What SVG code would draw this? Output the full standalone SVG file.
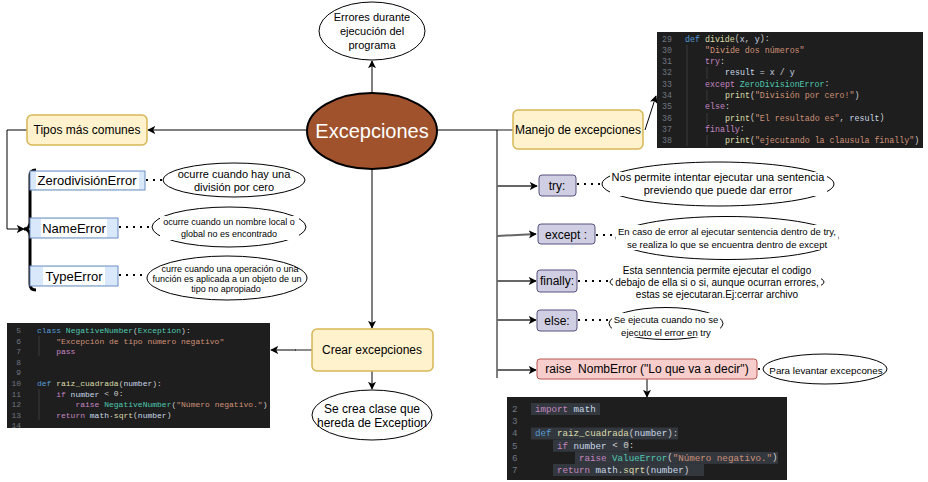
<svg xmlns="http://www.w3.org/2000/svg" width="928" height="482" viewBox="0 0 928 482">
<style>
.t{font-family:"Liberation Sans",Arial,sans-serif;fill:#000;text-anchor:middle;dominant-baseline:central}
.y{fill:#fff2cc;stroke:#d6b656;stroke-width:1.5}
.b{fill:#dae8fc;stroke:#6c8ebf;stroke-width:1}
.p{fill:#d0cee2;stroke:#56517e;stroke-width:1}
.r{fill:#f8cecc;stroke:#b85450;stroke-width:1}
.el{fill:#fff;stroke:#000;stroke-width:1}
.bg{fill:#fff}
.ln{stroke:#000;stroke-width:1;fill:none}
.gr{stroke:#666;stroke-width:2;fill:none}
.dot{stroke:#000;stroke-width:2;stroke-dasharray:2 5;fill:none}
.code{fill:#1e1e1e}
.c{font-family:"Liberation Mono","DejaVu Sans Mono",monospace;fill:#cfcfcf;dominant-baseline:central}
.n{fill:#6e7681}
.k{fill:#569cd6}
.kp{fill:#c586c0}
.s{fill:#ce9178}
.cl{fill:#4ec9b0}
.f{fill:#dcdcaa}
.v{fill:#c8d8e8}
.sel{fill:#33373e}
</style>
<defs>
<marker id="ah" viewBox="0 0 10 10" refX="9" refY="5" markerWidth="8" markerHeight="8" markerUnits="userSpaceOnUse" orient="auto">
<path d="M0,0 L10,5 L0,10 L2.5,5 z" fill="#000"/>
</marker>
<clipPath id="clipL"><rect x="7" y="323" width="263" height="105"/></clipPath>
</defs>

<!-- connectors -->
<g id="connectors">
<line class="ln" x1="372" y1="93" x2="372" y2="61" marker-end="url(#ah)"/>
<line class="ln" x1="307" y1="130" x2="148" y2="130" marker-end="url(#ah)"/>
<path class="ln" d="M27,130 H7 V229 H24" marker-end="url(#ah)"/>
<line class="ln" x1="372" y1="169" x2="372" y2="328" marker-end="url(#ah)"/>
<line class="ln" x1="437" y1="130" x2="497" y2="130"/>
<line class="gr" x1="497" y1="130" x2="513" y2="130" style="stroke-width:1.5"/>
<line class="ln" x1="497" y1="130" x2="497" y2="378"/>
<line class="gr" x1="497" y1="186" x2="537" y2="186" marker-end="url(#ah)"/>
<line class="gr" x1="497" y1="236" x2="536" y2="234" marker-end="url(#ah)"/>
<line class="gr" x1="497" y1="281" x2="536" y2="281" marker-end="url(#ah)"/>
<line class="gr" x1="497" y1="320" x2="536" y2="320" marker-end="url(#ah)"/>
<line class="gr" x1="497" y1="370" x2="536" y2="370" marker-end="url(#ah)"/>
<line class="ln" x1="645" y1="130" x2="656" y2="96" marker-end="url(#ah)"/>
<line class="gr" x1="312" y1="350" x2="295" y2="350" style="stroke-width:1.5"/>
<line class="ln" x1="296" y1="350" x2="271" y2="350" marker-end="url(#ah)"/>
<line class="ln" x1="372" y1="371" x2="372" y2="389" marker-end="url(#ah)"/>
<line class="ln" x1="647" y1="379" x2="647" y2="397" marker-end="url(#ah)"/>
<line class="dot" x1="146" y1="180" x2="163" y2="180"/>
<line class="dot" x1="119" y1="227" x2="152" y2="227"/>
<line class="dot" x1="119" y1="275" x2="147" y2="275"/>
<line class="dot" x1="577" y1="184" x2="606" y2="184"/>
<line class="dot" x1="596" y1="235" x2="616" y2="235"/>
<line class="dot" x1="578" y1="281" x2="610" y2="281"/>
<line class="dot" x1="578" y1="320" x2="609" y2="320"/>
<line class="dot" x1="758" y1="369" x2="763" y2="369"/>
</g>

<!-- central node -->
<g id="excepciones">
<ellipse cx="372" cy="131" rx="65" ry="38" fill="#a0522d" stroke="#000" stroke-width="2"/>
<text class="t" x="372" y="131" font-size="20" style="fill:#fff">Excepciones</text>
</g>

<g id="errores">
<ellipse class="el" cx="372" cy="31" rx="53" ry="29"/>
<text class="t" font-size="11"><tspan x="372" y="17">Errores durante</tspan><tspan x="372" y="31">ejecución del</tspan><tspan x="372" y="45">programa</tspan></text>
</g>

<g id="tipos">
<rect class="y" x="27" y="115" width="120" height="30" rx="5"/>
<text class="t" x="87" y="130" font-size="12">Tipos más comunes</text>
</g>

<g id="brace">
<path d="M36,170 Q30,170 30,176 V222 Q30,229 24,229 Q30,229 30,236 V284 Q30,290 36,290" fill="none" stroke="#000" stroke-width="3"/>
</g>

<g id="zerodiv">
<rect class="b" x="30" y="171" width="115" height="19"/>
<rect class="bg" x="36" y="172" width="103" height="17"/>
<text class="t" x="87" y="180.5" font-size="13">ZerodivisiónError</text>
</g>
<g id="zerodiv-desc">
<ellipse class="el" cx="234" cy="180" rx="71" ry="17"/>
<text class="t" font-size="11"><tspan x="234" y="174">ocurre cuando hay una</tspan><tspan x="234" y="187">división por cero</tspan></text>
</g>

<g id="nameerror">
<rect class="b" x="30" y="218" width="88" height="20"/>
<rect class="bg" x="41" y="219" width="66" height="18"/>
<text class="t" x="74" y="228" font-size="13">NameError</text>
</g>
<g id="nameerror-desc">
<ellipse class="el" cx="229" cy="227" rx="77" ry="20"/>
<rect class="bg" x="160" y="216" width="139" height="24"/>
<text class="t" font-size="9"><tspan x="229" y="222">ocurre cuando un nombre local o</tspan><tspan x="229" y="234">global no es encontrado</tspan></text>
</g>

<g id="typeerror">
<rect class="b" x="30" y="266" width="88" height="20"/>
<rect class="bg" x="43" y="267" width="62" height="18"/>
<text class="t" x="74" y="276" font-size="13">TypeError</text>
</g>
<g id="typeerror-desc">
<ellipse class="el" cx="227" cy="278" rx="80" ry="22"/>
<text class="t" font-size="9"><tspan x="230" y="268.5">curre cuando una operación o una</tspan><tspan x="227" y="278.5">función es aplicada a un objeto de un</tspan><tspan x="226" y="288.5">tipo no apropiado</tspan></text>
</g>

<g id="crear">
<rect class="y" x="312" y="329" width="121" height="42" rx="5"/>
<text class="t" x="372" y="350" font-size="12">Crear excepciones</text>
</g>

<g id="se-crea">
<ellipse class="el" cx="372" cy="415" rx="60" ry="25"/>
<text class="t" font-size="12"><tspan x="372" y="409">Se crea clase que</tspan><tspan x="372" y="423">hereda de Exception</tspan></text>
</g>

<g id="manejo">
<rect class="y" x="513" y="110" width="130" height="39" rx="5"/>
<text class="t" x="578" y="130" font-size="12">Manejo de excepciones</text>
</g>

<g id="try">
<rect class="p" x="539" y="175" width="37" height="21" rx="3"/>
<text class="t" x="557" y="186" font-size="12">try:</text>
</g>
<g id="try-desc">
<ellipse class="el" cx="718" cy="184" rx="116" ry="22"/>
<rect class="bg" x="610" y="172" width="217" height="24"/>
<text class="t" font-size="11"><tspan x="718" y="177">Nos permite intentar ejecutar una sentencia</tspan><tspan x="718" y="190">previendo que puede dar error</tspan></text>
</g>

<g id="except">
<rect class="p" x="538" y="224" width="57" height="20" rx="3"/>
<text class="t" x="566" y="234.5" font-size="12">except :</text>
</g>
<g id="except-desc">
<ellipse class="el" cx="727" cy="238" rx="111" ry="21.5"/>
<rect class="bg" x="616" y="225" width="222" height="25"/>
<text class="t" font-size="9.5"><tspan x="727" y="231">En caso de error al ejecutar sentencia dentro de try,</tspan><tspan x="727" y="243.5">se realiza lo que se encuentra dentro de except</tspan></text>
</g>

<g id="finally">
<rect class="p" x="537" y="270" width="40" height="22" rx="3"/>
<text class="t" x="557" y="281" font-size="12">finally:</text>
</g>
<g id="finally-desc">
<ellipse class="el" cx="717" cy="282" rx="107" ry="14"/>
<rect class="bg" x="613" y="264" width="208" height="36"/>
<text class="t" font-size="10"><tspan x="717" y="270">Esta senntencia permite ejecutar el codigo</tspan><tspan x="717" y="282">debajo de ella si o si, aunque ocurran errores,</tspan><tspan x="717" y="294">estas se ejecutaran.Ej:cerrar archivo</tspan></text>
</g>

<g id="else">
<rect class="p" x="537" y="310" width="40" height="21" rx="3"/>
<text class="t" x="557" y="320.5" font-size="12">else:</text>
</g>
<g id="else-desc">
<ellipse class="el" cx="666" cy="323.5" rx="57" ry="16"/>
<rect class="bg" x="612" y="313" width="108" height="24"/>
<text class="t" font-size="9.5"><tspan x="666" y="319">Se ejecuta cuando no se</tspan><tspan x="666" y="331.5">ejecuto el error en try</tspan></text>
</g>

<g id="raise">
<rect class="r" x="537" y="359" width="220" height="20" rx="3"/>
<text class="t" x="647" y="369" font-size="12" xml:space="preserve">raise  NombError ("Lo que va a decir")</text>
</g>
<g id="raise-desc">
<ellipse class="el" cx="825" cy="369" rx="62" ry="15"/>
<text class="t" x="826" y="370" font-size="9.8">Para levantar excepcones</text>
</g>

<!-- code: manejo -->
<g id="code-manejo" xml:space="preserve">
<rect class="code" x="657" y="32" width="266" height="116"/>
<g stroke="#3a3a3a" stroke-width="1"><line x1="687" y1="45" x2="687" y2="146"/><line x1="707" y1="67" x2="707" y2="79"/><line x1="707" y1="90" x2="707" y2="101"/><line x1="707" y1="113" x2="707" y2="124"/><line x1="707" y1="135" x2="707" y2="146"/></g>
<text class="c" font-size="8.3"><tspan class="n" x="662" y="38.5">29</tspan><tspan class="n" x="662" y="49.8">30</tspan><tspan class="n" x="662" y="61.1">31</tspan><tspan class="n" x="662" y="72.4">32</tspan><tspan class="n" x="662" y="83.7">33</tspan><tspan class="n" x="662" y="95">34</tspan><tspan class="n" x="662" y="106.3">35</tspan><tspan class="n" x="662" y="117.6">36</tspan><tspan class="n" x="662" y="128.9">37</tspan><tspan class="n" x="662" y="140.2">38</tspan></text>
<text class="c" font-size="8.3" x="685" y="38.5"><tspan class="k">def</tspan> <tspan class="f">divide</tspan>(<tspan class="v">x</tspan>, <tspan class="v">y</tspan>):</text>
<text class="c" font-size="8.3" x="705" y="49.8"><tspan class="s">"Divide dos números"</tspan></text>
<text class="c" font-size="8.3" x="705" y="61.1"><tspan class="kp">try</tspan>:</text>
<text class="c" font-size="8.3" x="725" y="72.4"><tspan class="v">result</tspan> = <tspan class="v">x</tspan> / <tspan class="v">y</tspan></text>
<text class="c" font-size="8.3" x="705" y="83.7"><tspan class="kp">except</tspan> <tspan class="cl">ZeroDivisionError</tspan>:</text>
<text class="c" font-size="8.3" x="725" y="95"><tspan class="f">print</tspan>(<tspan class="s">"División por cero!"</tspan>)</text>
<text class="c" font-size="8.3" x="705" y="106.3"><tspan class="kp">else</tspan>:</text>
<text class="c" font-size="8.3" x="725" y="117.6"><tspan class="f">print</tspan>(<tspan class="s">"El resultado es"</tspan>, <tspan class="v">result</tspan>)</text>
<text class="c" font-size="8.3" x="705" y="128.9"><tspan class="kp">finally</tspan>:</text>
<text class="c" font-size="8.3" x="725" y="140.2"><tspan class="f">print</tspan>(<tspan class="s">"ejecutando la clausula finally"</tspan>)</text>
</g>

<!-- code: crear -->
<g id="code-crear" xml:space="preserve" clip-path="url(#clipL)">
<rect class="code" x="7" y="323" width="263" height="105"/>
<g stroke="#3a3a3a" stroke-width="1"><line x1="39" y1="336" x2="39" y2="356"/><line x1="39" y1="389" x2="39" y2="420"/></g>
<text class="c" font-size="8" text-anchor="end"><tspan class="n" x="21" y="330">5</tspan><tspan class="n" x="21" y="340.6">6</tspan><tspan class="n" x="21" y="351.2">7</tspan><tspan class="n" x="21" y="361.8">8</tspan><tspan class="n" x="21" y="372.4">9</tspan><tspan class="n" x="21" y="383">10</tspan><tspan class="n" x="21" y="393.6">11</tspan><tspan class="n" x="21" y="404.2">12</tspan><tspan class="n" x="21" y="414.8">13</tspan><tspan class="n" x="21" y="425.4">14</tspan></text>
<text class="c" font-size="8" x="37" y="330"><tspan class="k">class</tspan> <tspan class="cl">NegativeNumber</tspan>(<tspan class="cl">Exception</tspan>):</text>
<text class="c" font-size="8" x="56.2" y="340.6"><tspan class="s">"Excepción de tipo número negativo"</tspan></text>
<text class="c" font-size="8" x="56.2" y="351.2"><tspan class="kp">pass</tspan></text>
<text class="c" font-size="8" x="37" y="383"><tspan class="k">def</tspan> <tspan class="f">raiz_cuadrada</tspan>(<tspan class="v">number</tspan>):</text>
<text class="c" font-size="8" x="56.2" y="393.6"><tspan class="kp">if</tspan> <tspan class="v">number</tspan> &lt; 0:</text>
<text class="c" font-size="8" x="75.4" y="404.2"><tspan class="kp">raise</tspan> <tspan class="cl">NegativeNumber</tspan>(<tspan class="s">"Número negativo."</tspan>)</text>
<text class="c" font-size="8" x="56.2" y="414.8"><tspan class="kp">return</tspan> <tspan class="v">math</tspan>.<tspan class="f">sqrt</tspan>(<tspan class="v">number</tspan>)</text>
</g>

<!-- code: raise -->
<g id="code-raise" xml:space="preserve">
<rect class="code" x="507" y="397" width="280" height="83"/>
<rect class="sel" x="531" y="403" width="69" height="12"/>
<rect class="sel" x="531" y="427.5" width="147" height="12"/>
<rect class="sel" x="553" y="439.7" width="76" height="12"/>
<rect class="sel" x="575" y="451.9" width="203" height="12"/>
<rect class="sel" x="553" y="464" width="151" height="12"/>
<text class="c" font-size="9.2"><tspan class="n" x="512" y="409">2</tspan><tspan class="n" x="512" y="421.2">3</tspan><tspan class="n" x="512" y="433.4">4</tspan><tspan class="n" x="512" y="445.6">5</tspan><tspan class="n" x="512" y="457.8">6</tspan><tspan class="n" x="512" y="470">7</tspan></text>
<text class="c" font-size="9.2" x="535" y="409"><tspan class="kp">import</tspan> <tspan class="v">math</tspan></text>
<text class="c" font-size="9.2" x="535" y="433.4"><tspan class="k">def</tspan> <tspan class="f">raiz_cuadrada</tspan>(<tspan class="v">number</tspan>):</text>
<text class="c" font-size="9.2" x="557" y="445.6"><tspan class="kp">if</tspan> <tspan class="v">number</tspan> &lt; 0:</text>
<text class="c" font-size="9.2" x="579" y="457.8"><tspan class="kp">raise</tspan> <tspan class="cl">ValueError</tspan>(<tspan class="s">"Número negativo."</tspan>)</text>
<text class="c" font-size="9.2" x="557" y="470"><tspan class="kp">return</tspan> <tspan class="v">math</tspan>.<tspan class="f">sqrt</tspan>(<tspan class="v">number</tspan>)</text>
</g>
</svg>
